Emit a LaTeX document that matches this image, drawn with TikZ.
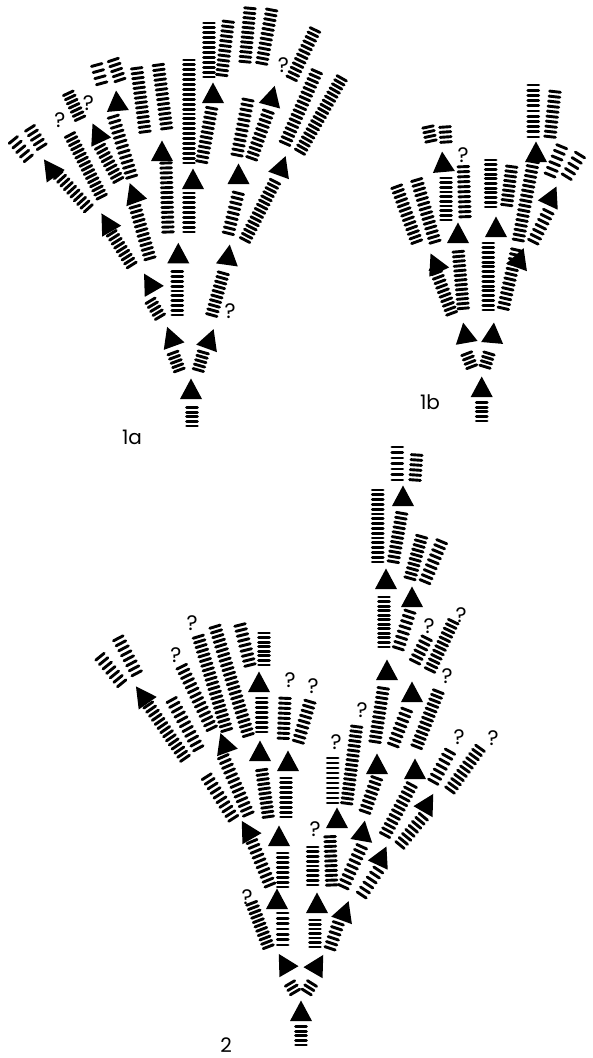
\documentclass[tikz,border=0pt]{standalone}
\usepackage{fontspec}
\setmainfont{Poppins}
\usepackage{tikz}

\newcommand{\barstack}[5]{%
  \pgfmathsetmacro{\sdx}{#3-#1}%
  \pgfmathsetmacro{\sdy}{#4-#2}%
  \pgfmathsetmacro{\slen}{veclen(\sdx,\sdy)}%
  \pgfmathsetmacro{\sux}{-5.4*\sdy/\slen}%
  \pgfmathsetmacro{\suy}{5.4*\sdx/\slen}%
  \foreach \k in {1,...,#5}{%
    \pgfmathsetmacro{\cx}{#1+\sdx*(\k-1)/(#5-1)}%
    \pgfmathsetmacro{\cy}{#2+\sdy*(\k-1)/(#5-1)}%
    \draw[bar] ({\cx-(\sux)},{\cy-(\suy)}) -- ({\cx+\sux},{\cy+\suy});
  }}
\newcommand{\tri}[3]{\fill[shift={(#1,#2)},rotate={-1*(#3)}] (0,-10.5) -- (-11,10) -- (11,10) -- cycle;}

\begin{document}
\begin{tikzpicture}[
        x=1pt, y=-1pt,
        bar/.style={line width=2.9pt, line cap=round},
        qmark/.style={font=\fontsize{21}{21}\selectfont, inner sep=0pt},
        lbl/.style={font=\fontsize{20}{20}\selectfont, inner sep=0pt}
    ]
    \fill[white] (0,0) rectangle (592,1058);
    \useasboundingbox (0,0) rectangle (592,1058);

    % 1a
    \barstack{192}{426}{192}{407.6}{5}
    \barstack{179.3}{370}{173}{353}{5}
    \barstack{198.3}{370}{203.3}{352.4}{5}
    \barstack{160}{316.7}{150.5}{300.8}{5}
    \barstack{177.3}{315}{177.3}{271.7}{10}
    \barstack{211.7}{315}{223.3}{273.3}{10}
    \barstack{131.7}{265}{111.7}{233.3}{9}
    \barstack{150}{258.3}{135}{206.7}{12}
    \barstack{88.3}{208.3}{58.3}{175}{10}
    \barstack{101.7}{196.7}{70}{135}{16}
    \barstack{41.7}{146.7}{30}{128.3}{5}
    \barstack{28.3}{158.3}{13.3}{140}{5}
    \barstack{118.3}{180}{100}{146.7}{9}
    \barstack{131.7}{176.7}{113.3}{116.7}{13}
    \barstack{80}{118.3}{68.3}{93.3}{7}
    \barstack{101.7}{83.3}{96.7}{65}{4}
    \barstack{120}{80}{113.3}{60}{5}
    \barstack{168}{232}{166}{163}{15}
    \barstack{189}{232}{189}{193}{9}
    \barstack{145}{131.7}{136.7}{68.3}{14}
    \barstack{166.7}{128.3}{158.3}{65}{14}
    \barstack{189}{163}{189}{60}{22}
    \barstack{201.7}{161.7}{211.7}{108.3}{12}
    \barstack{209}{77}{209}{23}{12}
    \barstack{221.7}{75}{228.3}{21.7}{12}
    \barstack{228.3}{233.3}{238.3}{193.3}{9}
    \barstack{245}{240}{275}{181.7}{15}
    \barstack{237}{155}{248}{100}{12}
    \barstack{251.7}{158.3}{268.3}{111.7}{11}
    \barstack{245}{61.7}{250}{8.3}{12}
    \barstack{261.7}{63.3}{271.7}{10}{12}
    \barstack{291.7}{78.3}{315}{30}{12}
    \barstack{285}{143.3}{316.7}{71.7}{17}
    \barstack{300}{151.7}{341.7}{78.3}{19}

    \tri{191}{389}{0}
    \tri{170.7}{336.7}{-20}
    \tri{210}{339}{20}
    \tri{149.3}{282.7}{-30}
    \tri{178.3}{253.3}{0}
    \tri{228.3}{255}{8}
    \tri{106.7}{222.5}{-30}
    \tri{133.3}{193}{-20}
    \tri{162}{151}{0}
    \tri{193}{179}{0}
    \tri{238.5}{174}{0}
    \tri{282}{166}{20}
    \tri{50}{168}{-35}
    \tri{97}{133}{-25}
    \tri{117}{101}{-5}
    \tri{213}{93}{0}
    \tri{272}{96}{15}

    % 1b
    \barstack{481.7}{421}{481.7}{402.6}{5}
    \barstack{471.7}{366.7}{466.7}{353.7}{4}
    \barstack{485}{366.7}{489}{353.5}{4}
    \barstack{451.7}{313.3}{435}{268.3}{11}
    \barstack{463.3}{308.3}{458.3}{251.7}{13}
    \barstack{488.3}{310}{488.3}{243}{15}
    \barstack{503.3}{308.3}{516.7}{250}{13}
    \barstack{416.7}{241.7}{396.7}{186.7}{13}
    \barstack{435}{241.7}{416.7}{180}{14}
    \barstack{446}{220}{446}{178}{10}
    \barstack{465}{216.7}{463.3}{166.7}{11}
    \barstack{490.7}{207}{490.7}{160}{11}
    \barstack{506.7}{205}{511.7}{166.7}{9}
    \barstack{518.3}{240}{533.3}{161.7}{17}
    \barstack{533.3}{241.7}{548.3}{211.7}{7}
    \barstack{550}{175}{561.7}{146.7}{6}
    \barstack{566.7}{176.7}{580}{155}{5}
    \barstack{533.3}{137}{533.3}{85}{11}
    \barstack{550}{136.7}{555}{91.7}{10}
    \barstack{431}{141}{428}{127}{4}
    \barstack{446}{142}{445}{127}{4}

    \tri{481.7}{387}{0}
    \tri{465}{333}{-10}
    \tri{493}{333}{5}
    \tri{435}{263}{-25}
    \tri{458}{233}{0}
    \tri{496}{227}{0}
    \tri{520}{258}{20}
    \tri{443}{162}{-5}
    \tri{552}{196}{25}
    \tri{536}{152}{0}

    % 2
    \barstack{301}{1045}{301}{1026.6}{5}
    \barstack{295}{992}{290}{983.5}{3}
    \barstack{306.7}{992}{312}{983.5}{3}
    \barstack{268.3}{946.7}{251.7}{903.3}{11}
    \barstack{282.7}{945}{282.7}{913}{7}
    \barstack{315}{947}{315}{920}{7}
    \barstack{330}{948.3}{338.3}{923.3}{6}
    \barstack{270}{885}{250}{836.7}{11}
    \barstack{282.7}{887}{282.7}{853}{8}
    \barstack{312.7}{885}{312.7}{847}{9}
    \barstack{331.7}{885}{330}{836.7}{11}
    \barstack{343.3}{886.7}{361.7}{846.7}{9}
    \barstack{361.7}{895}{378.3}{870}{6}
    \barstack{233.3}{818.3}{206.7}{776.7}{10}
    \barstack{248.3}{814}{223.3}{756.7}{13}
    \barstack{268.3}{816.7}{261.7}{770}{11}
    \barstack{286}{817}{286}{778}{9}
    \barstack{185}{758.3}{148.3}{705}{14}
    \barstack{198.3}{748.3}{171.7}{700}{11}
    \barstack{121.7}{683.3}{100}{656.7}{7}
    \barstack{136.7}{673.3}{118.3}{638.3}{8}
    \barstack{211.7}{728.3}{181.7}{666.7}{14}
    \barstack{226.7}{730}{198.3}{636.7}{21}
    \barstack{248.3}{735}{215}{626.7}{24}
    \barstack{261.7}{732}{261.7}{698}{8}
    \barstack{250}{665}{240}{625}{9}
    \barstack{264}{665}{264}{633}{8}
    \barstack{283.3}{738.3}{285}{698.3}{9}
    \barstack{298.3}{741.7}{310}{701.7}{9}
    \barstack{332.7}{803}{332.7}{758}{10}
    \barstack{346.7}{803.3}{356.7}{726.7}{17}
    \barstack{365}{811.7}{376.7}{778.3}{8}
    \barstack{385}{835}{411.7}{785}{12}
    \barstack{400}{845}{423.3}{816.7}{8}
    \barstack{375}{741.7}{383.3}{688.3}{12}
    \barstack{393.3}{745}{406.7}{710}{8}
    \barstack{416.7}{746.7}{438.3}{691.7}{13}
    \barstack{433.3}{781.7}{450}{751.7}{7}
    \barstack{450}{790}{480}{748.3}{11}
    \barstack{384}{647}{384}{597}{12}
    \barstack{398.3}{648.3}{410}{611.7}{8}
    \barstack{415}{661.7}{426.7}{638.3}{6}
    \barstack{430}{670}{453.3}{621.7}{12}
    \barstack{377.7}{562}{377.7}{490}{16}
    \barstack{393.3}{561.7}{401.7}{513.3}{11}
    \barstack{410}{578.3}{421.7}{536.7}{10}
    \barstack{425}{581.7}{441.7}{541.7}{9}
    \barstack{397.3}{480}{397.3}{447}{7}
    \barstack{415}{480}{416.7}{455}{6}

    \tri{301}{1011}{0}
    \tri{284}{963}{-30}
    \tri{318}{964}{30}
    \tri{277}{899}{0}
    \tri{317}{903}{0}
    \tri{345}{911}{20}
    \tri{247}{830}{-30}
    \tri{279}{836}{0}
    \tri{337}{818}{0}
    \tri{363}{831}{10}
    \tri{382}{856}{25}
    \tri{224}{743}{-20}
    \tri{260}{751}{0}
    \tri{288}{761}{0}
    \tri{142}{695}{-35}
    \tri{259}{682}{0}
    \tri{377}{764}{0}
    \tri{415}{769}{0}
    \tri{428}{803}{30}
    \tri{387}{670}{0}
    \tri{412}{692}{0}
    \tri{386}{579}{0}
    \tri{412}{597}{0}
    \tri{403}{496}{0}

    \foreach \x/\y [count=\i] in {230/311, 60/120, 88.3/103.3, 283.3/65, 463/155,
        247/897, 176/655, 192/623, 290/680, 313/686, 336/742, 362/710, 315/829,
        447/676, 459/737, 493/738, 429/626, 461/615}
        \node[qmark] (q\i) at (\x,\y) {?};

    \node[lbl] (lbla) at (132,437) {1a};
    \node[lbl] (lblb) at (430,402) {1b};
    \node[lbl] (lbl2) at (226,1045) {2};
\end{tikzpicture}
\end{document}
